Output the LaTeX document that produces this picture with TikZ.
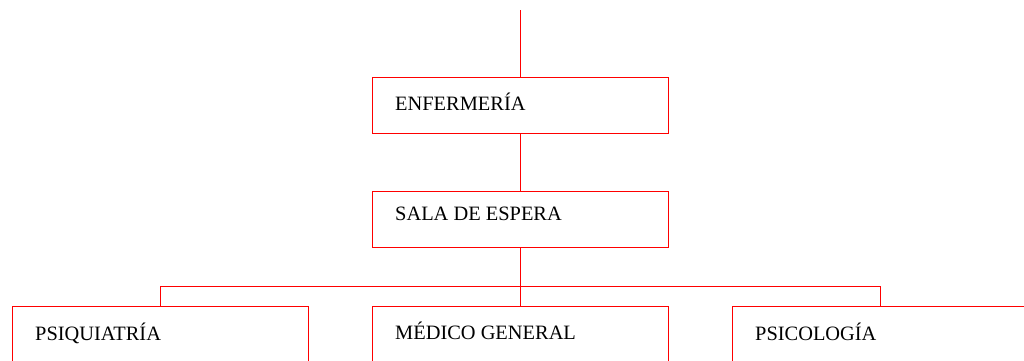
\documentclass[tikz,border=0pt]{standalone}
\usepackage{fontspec}
\setmainfont{Liberation Serif}
\begin{document}
\begin{tikzpicture}[x=1pt,y=-1pt,
  box/.style={draw=red,line width=1pt,minimum width=296pt,minimum height=56pt,inner sep=0pt,outer sep=0pt,anchor=north west},
  lbl/.style={anchor=base west,inner sep=0pt,font=\fontsize{20.4pt}{24pt}\selectfont},
  conn/.style={draw=red,line width=1pt}]
\useasboundingbox (0,0) rectangle (1024,360);
\clip (0,0) rectangle (1024,360);
\coordinate (top) at (520,10);
\node[box] (enf) at (372,77) {};
\node[box] (sala) at (372,191) {};
\node[box] (psiq) at (12,306) {};
\node[box] (med) at (372,306) {};
\node[box] (psic) at (732,306) {};
\node[lbl] (tenf) at ([shift={(23,33)}]enf.north west) {ENFERMERÍA};
\node[lbl] (tsala) at ([shift={(23,29.5)}]sala.north west) {SALA DE ESPERA};
\node[lbl] (tpsiq) at ([shift={(23,34)}]psiq.north west) {PSIQUIATRÍA};
\node[lbl] (tmed) at ([shift={(23,33)}]med.north west) {MÉDICO GENERAL};
\node[lbl] (tpsic) at ([shift={(23,34)}]psic.north west) {PSICOLOGÍA};
\draw[conn] (top) -- (enf.north);
\draw[conn] (enf.south) -- (sala.north);
\coordinate (bus) at (520,286);
\draw[conn] (sala.south) -- (med.north);
\draw[conn] (psiq.north) -- (psiq.north |- bus) -- (psic.north |- bus) -- (psic.north);
\end{tikzpicture}
\end{document}
